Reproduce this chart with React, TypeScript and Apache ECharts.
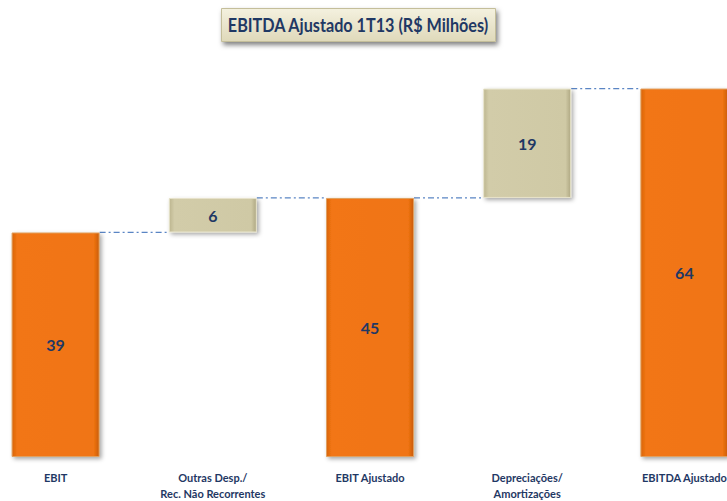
import React, { useEffect, useRef } from "react";
import * as echarts from "echarts";

const categories = [
  "EBIT",
  "Outras Desp./\nRec. Não Recorrentes",
  "EBIT Ajustado",
  "Depreciações/\nAmortizações",
  "EBITDA Ajustado",
];
const values = [39, 6, 45, 19, 64];
const isTotal = [true, false, true, false, true];
const titleText = "EBITDA Ajustado 1T13 (R$ Milhões)";

// base (invisible) part of each waterfall step
const bases: number[] = [];
{
  let running = 0;
  values.forEach((v, i) => {
    if (isTotal[i]) {
      bases.push(0);
      running = v;
    } else {
      bases.push(running);
      running += v;
    }
  });
}
const tops = values.map((v, i) => bases[i] + v);
const connectors = tops.slice(0, -1).map((t, i) => [i, t]);

const FONT = "Lato, 'Noto Sans', sans-serif";
const NAVY = "#1F3864";
const SHIFT = 23; // chart canvas starts 23px left of the page

const orangeFill = new echarts.graphic.LinearGradient(0, 0, 1, 0, [
  { offset: 0, color: "#D9650C" },
  { offset: 0.06, color: "#F27613" },
  { offset: 0.94, color: "#F07412" },
  { offset: 1, color: "#C95C0A" },
]);
const beigeFill = new echarts.graphic.LinearGradient(0, 0, 1, 0, [
  { offset: 0, color: "#BDB690" },
  { offset: 0.06, color: "#D2CCA9" },
  { offset: 0.94, color: "#CFC9A5" },
  { offset: 1, color: "#AFA883" },
]);

export default function App() {
  const ref = useRef<HTMLDivElement>(null);
  useEffect(() => {
    document.body.style.overflow = "hidden";
    const chart = echarts.init(ref.current!, null, { renderer: "svg" });
    const barRatio = 0.56;
    chart.setOption({
      animation: false,
      backgroundColor: "#ffffff",
      graphic: [
        {
          type: "rect",
          left: 221 + SHIFT,
          top: 8,
          shape: { width: 274, height: 33 },
          style: {
            fill: new echarts.graphic.LinearGradient(0, 0, 0, 1, [
              { offset: 0, color: "#F4F1DF" },
              { offset: 1, color: "#DFD9BA" },
            ]),
            stroke: "#C4BE9A",
            lineWidth: 1,
            shadowBlur: 5,
            shadowColor: "rgba(0,0,0,0.5)",
            shadowOffsetX: 2,
            shadowOffsetY: 3,
          },
          z: 10,
        },
        {
          type: "text",
          x: 358 + SHIFT,
          y: 25,
          scaleX: 0.9,
          originX: 0,
          originY: 0,
          style: {
            text: titleText,
            fill: NAVY,
            font: `bold 18px ${FONT}`,
            align: "center",
            verticalAlign: "middle",
          },
          z: 11,
        },
      ],
      grid: { left: 0, right: 0, top: 54, bottom: 40, containLabel: false },
      xAxis: {
        type: "category",
        data: categories,
        axisLine: { show: false },
        axisTick: { show: false },
        axisLabel: {
          interval: 0,
          margin: 12,
          color: NAVY,
          fontFamily: FONT,
          fontWeight: "bold",
          fontSize: 11,
          lineHeight: 16,
        },
      },
      yAxis: {
        type: "value",
        min: 0,
        max: 70,
        show: false,
        splitLine: { show: false },
      },
      series: [
        {
          type: "bar",
          stack: "w",
          data: bases,
          barWidth: `${barRatio * 100}%`,
          itemStyle: { color: "transparent" },
          silent: true,
        },
        {
          type: "bar",
          stack: "w",
          barWidth: `${barRatio * 100}%`,
          data: values.map((v, i) => ({
            value: v,
            itemStyle: {
              color: isTotal[i] ? orangeFill : beigeFill,
              borderColor: isTotal[i] ? "#E0A060" : "#E8E4CC",
              borderWidth: 1,
              shadowBlur: 4,
              shadowColor: "rgba(0,0,0,0.35)",
              shadowOffsetX: 2,
              shadowOffsetY: 2,
            },
          })),
          label: {
            show: true,
            position: "inside",
            color: NAVY,
            fontFamily: FONT,
            fontWeight: "bold",
            fontSize: 16,
          },
        },
        {
          type: "custom",
          data: connectors,
          z: 1,
          renderItem: (params: any, api: any) => {
            const p = api.coord([api.value(0), api.value(1)]);
            const w = api.size([1, 0])[0];
            const half = (w * barRatio) / 2;
            return {
              type: "line",
              shape: { x1: p[0] + half, y1: p[1], x2: p[0] + w - half, y2: p[1] },
              style: { stroke: "#5A85C4", lineWidth: 1.2, lineDash: [6, 3, 2, 3] },
            };
          },
        },
      ],
    });
    return () => chart.dispose();
  }, []);
  return (
    <div
      ref={ref}
      style={{ position: "fixed", left: -SHIFT, top: 0, width: 786, height: 501 }}
    />
  );
}
